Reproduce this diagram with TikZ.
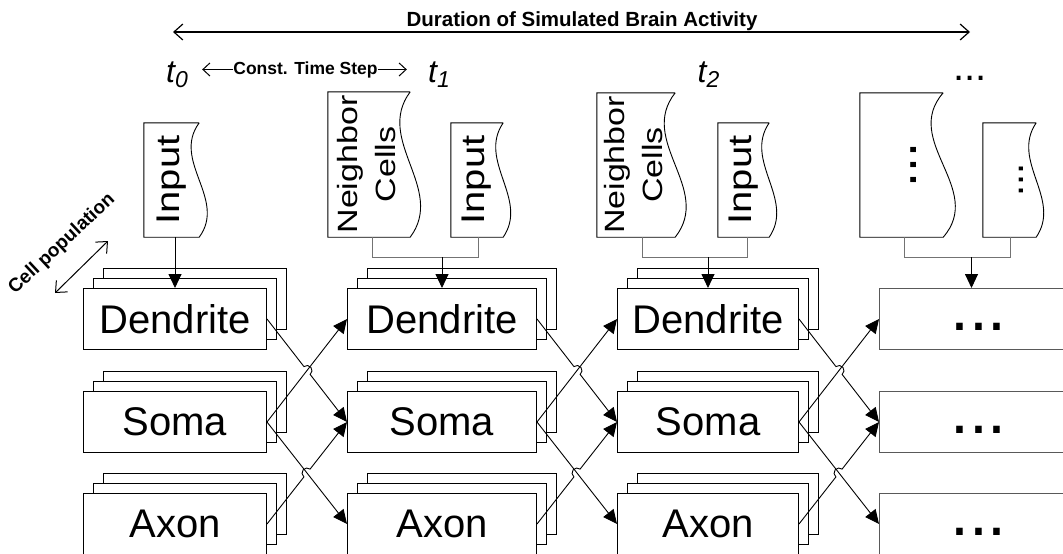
\documentclass[tikz,border=0pt]{standalone}
\usepackage{fontspec}
\setmainfont{Liberation Sans}
\usetikzlibrary{arrows.meta,calc}

\tikzset{
  cellbox/.style={draw, fill=white, line width=1pt, minimum height=61pt, inner sep=0pt, font=\fontsize{40}{48}\selectfont},
  backbox/.style={draw, fill=white, line width=1pt},
  doc/.style={inner sep=0pt, font=\fontsize{40}{48}\selectfont},
  docline/.style={draw, line width=0.9pt},
  flow/.style={line width=0.9pt, -{Triangle[length=14pt,width=13pt]}},
  feed/.style={line width=1pt, draw=black!55},
  span/.style={line width=1.2pt, {Straight Barb[length=9pt,width=16pt]}-{Straight Barb[length=9pt,width=16pt]}},
  tick/.style={line width=1pt, -{Straight Barb[length=7pt,width=13pt]}},
  tlabel/.style={inner sep=0pt, font=\fontsize{32}{32}\selectfont\itshape},
  note/.style={inner sep=0pt, font=\bfseries\fontsize{19}{21}\selectfont},
}

\begin{document}
\begin{tikzpicture}[x=1pt,y=1pt]
\useasboundingbox (0,0) rectangle (1063,-554);

% simulated time
\coordinate (durL) at (173,-32);
\coordinate (durR) at (970,-32);
\draw[span] (durL) -- (durR);
\node[note, anchor=base, font=\bfseries\fontsize{20.5}{22}\selectfont] (dur) at (582,-27) {Duration of Simulated Brain Activity};

\node[tlabel, anchor=base] (t0) at (177,-82) {t\raisebox{-5pt}{\fontsize{23}{23}\selectfont 0}};
\node[tlabel, anchor=base] (t1) at (439,-82) {t\raisebox{-5pt}{\fontsize{23}{23}\selectfont 1}};
\node[tlabel, anchor=base] (t2) at (708.5,-82) {t\raisebox{-5pt}{\fontsize{23}{23}\selectfont 2}};
\node[anchor=base, inner sep=0pt, font=\fontsize{40}{40}\selectfont] (tdots) at (970,-80) {...};

\node[note, anchor=base, font=\bfseries\fontsize{17.5}{20}\selectfont] (cts) at (305.5,-74) {Const. Time Step};
\coordinate (tsL) at ([xshift=-31pt]cts.west);
\coordinate (tsR) at ([xshift=29pt]cts.east);
\draw[tick] (cts.west) -- (tsL);
\draw[tick] (cts.east) -- (tsR);

% population depth
\node[note, rotate=43] (pop) at (62,-244) {Cell population};
\coordinate (popA) at (55,-293);
\coordinate (popB) at (108,-241);
\draw[span, line width=1pt] (popA) -- (popB);

% compartments
\foreach \c/\x/\w in {0/83/183, 1/347/189, 2/617/181} {
  \foreach \r/\y/\txt in {d/288/Dendrite, s/391/Soma, a/493/Axon} {
    \draw[backbox] (\x+20,-\y+20) rectangle ++(\w,-61);
    \draw[backbox] (\x+10,-\y+10) rectangle ++(\w,-61);
    \node[cellbox, minimum width=\w pt, anchor=north west] (\r\c) at (\x,-\y) {\txt};
  }
}
\foreach \r/\y in {d/288, s/391, a/493}
  \node[cellbox, draw=black!65, minimum width=184pt, anchor=north west] (\r3) at (879,-\y)
    {\raisebox{-11pt}[0pt][0pt]{\fontsize{68}{68}\selectfont\hspace{14pt}...}};

% inputs
\node[doc, minimum width=55pt, minimum height=114pt] (in0) at (171.5,-180)
  {\rotatebox{90}{\raisebox{6pt}{\scalebox{1}[0.82]{Input}}}};
\node[doc, minimum width=82pt, minimum height=145pt, font=\fontsize{34}{47}\selectfont] (nb1) at (369,-164.5)
  {\rotatebox{90}{\raisebox{4pt}{\scalebox{1}[0.82]{\begin{tabular}{@{}c@{}}Neighbor\\Cells\end{tabular}}}}};
\node[doc, minimum width=52pt, minimum height=114pt] (in1) at (477,-180)
  {\rotatebox{90}{\raisebox{3pt}{\scalebox{1}[0.82]{Input}}}};
\node[doc, minimum width=78pt, minimum height=144pt, font=\fontsize{34}{47}\selectfont] (nb2) at (636,-165)
  {\rotatebox{90}{\raisebox{4pt}{\scalebox{1}[0.82]{\begin{tabular}{@{}c@{}}Neighbor\\Cells\end{tabular}}}}};
\node[doc, minimum width=51pt, minimum height=114pt] (in2) at (743.5,-180)
  {\rotatebox{90}{\raisebox{3pt}{\scalebox{1}[0.82]{Input}}}};
\node[doc, minimum width=83pt, minimum height=144pt, font=\fontsize{54}{54}\selectfont] (dt3) at (901.5,-165)
  {\rotatebox{90}{\raisebox{-14.5pt}[0pt][0pt]{...}}};
\node[doc, minimum width=53pt, minimum height=114pt] (ds3) at (1009.5,-180)
  {\rotatebox{90}{\raisebox{-14pt}[0pt][0pt]{...}}};

\foreach \n/\a in {in0/28, nb1/36, in1/26, nb2/38, in2/26, dt3/42, ds3/26}
  \draw[docline] (\n.north east) -- (\n.north west) -- (\n.south west) -- (\n.south east)
    .. controls ($(\n.south east)!0.333!(\n.north east)+(\a,0)$) and ($(\n.south east)!0.667!(\n.north east)+(-\a,0)$) .. (\n.north east);

% feeding the dendrites
\draw[flow] (in0.south -| d0.north) -- (d0.north);
\draw[feed] ([xshift=3pt]nb1.south) -- ++(0,-20) -| ([xshift=1pt]in1.south);
\draw[flow] ([yshift=31pt]d1.north) -- (d1.north);
\draw[feed] ([xshift=6pt]nb2.south) -- ++(0,-20) -| ([xshift=4pt]in2.south);
\draw[flow] ([yshift=31pt]d2.north) -- (d2.north);
\draw[feed] ([xshift=3pt]dt3.south) -- ++(0,-20) -| ([xshift=1pt]ds3.south);
\draw[flow] ([yshift=31pt]d3.north) -- (d3.north);

% next time step
\foreach \c/\n in {0/1, 1/2, 2/3} {
  \coordinate (hu\c) at ($(d\c.east)!0.5!(s\n.west)$);
  \coordinate (hl\c) at ($(a\c.east)!0.5!(s\n.west)$);
  \draw[flow] (s\c.east) -- (d\n.west);
  \draw[flow] (s\c.east) -- (a\n.west);
  \draw[flow] (d\c.east) -- ($(hu\c)!5pt!(d\c.east)$) arc[start angle=128.2, end angle=-51.8, radius=5pt] -- (s\n.west);
  \draw[flow] (a\c.east) -- ($(hl\c)!5pt!(a\c.east)$) arc[start angle=231.8, end angle=51.8, radius=5pt] -- (s\n.west);
}
\end{tikzpicture}
\end{document}
